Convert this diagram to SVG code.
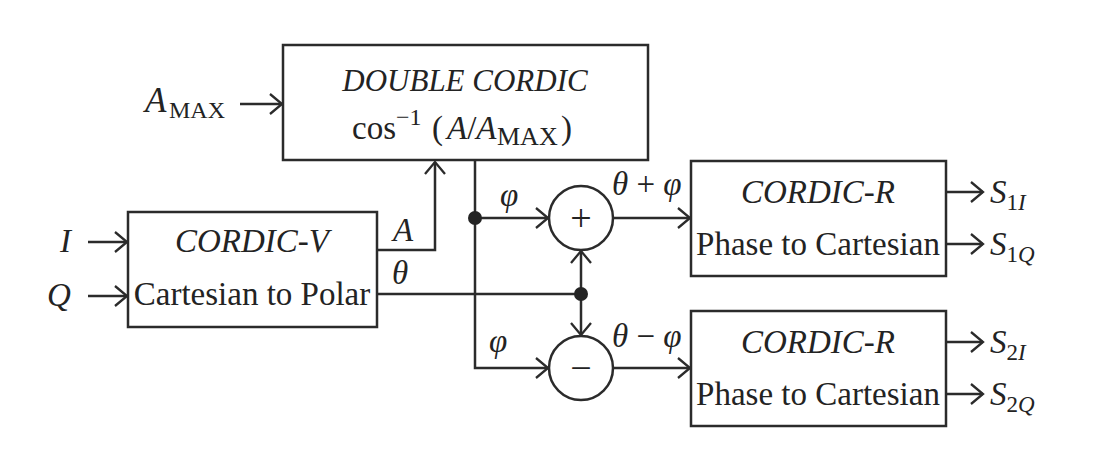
<svg xmlns="http://www.w3.org/2000/svg" width="1120" height="450" viewBox="0 0 1120 450">
<defs>
<style>
.box{fill:#fff;stroke:#2b2b2b;stroke-width:2.5}
.ln{fill:none;stroke:#2b2b2b;stroke-width:2.5}
.t{font-family:"Liberation Serif","Times New Roman",serif;font-size:33px;fill:#232323}
.i{font-style:italic}
.s{font-size:23px}
.c{text-anchor:middle}
</style>
<marker id="ar" markerUnits="userSpaceOnUse" markerWidth="16" markerHeight="24" refX="13" refY="11" orient="auto">
<path d="M1,1 L13,11 L1,21" fill="none" stroke="#2b2b2b" stroke-width="2.3"/>
</marker>
</defs>
<rect width="1120" height="450" fill="#fff"/>
<g id="connectors">
<line class="ln" x1="240" y1="104" x2="282" y2="104" marker-end="url(#ar)"/>
<line class="ln" x1="88" y1="242" x2="127" y2="242" marker-end="url(#ar)"/>
<line class="ln" x1="88" y1="296" x2="127" y2="296" marker-end="url(#ar)"/>
<polyline class="ln" points="377,250 435,250 435,162" marker-end="url(#ar)"/>
<line class="ln" x1="377" y1="294" x2="581" y2="294"/>
<polyline class="ln" points="475,160 475,368 548,368" marker-end="url(#ar)"/>
<line class="ln" x1="475" y1="218" x2="548" y2="218" marker-end="url(#ar)"/>
<line class="ln" x1="581" y1="294" x2="581" y2="251" marker-end="url(#ar)"/>
<line class="ln" x1="581" y1="294" x2="581" y2="335" marker-end="url(#ar)"/>
<line class="ln" x1="613" y1="218" x2="690" y2="218" marker-end="url(#ar)"/>
<line class="ln" x1="613" y1="368" x2="690" y2="368" marker-end="url(#ar)"/>
<line class="ln" x1="946" y1="192" x2="983" y2="192" marker-end="url(#ar)"/>
<line class="ln" x1="946" y1="244" x2="983" y2="244" marker-end="url(#ar)"/>
<line class="ln" x1="946" y1="342" x2="983" y2="342" marker-end="url(#ar)"/>
<line class="ln" x1="946" y1="394" x2="983" y2="394" marker-end="url(#ar)"/>
<circle cx="475" cy="218" r="7" fill="#232323"/>
<circle cx="581" cy="294" r="7" fill="#232323"/>
<text class="t i" x="393" y="241">A</text>
<text class="t i" x="392" y="284">θ</text>
<text class="t i" x="500" y="206">φ</text>
<text class="t i" x="489" y="352">φ</text>
<text class="t" x="612" y="195"><tspan class="i">θ</tspan> + <tspan class="i">φ</tspan></text>
<text class="t" x="612" y="347"><tspan class="i">θ</tspan> − <tspan class="i">φ</tspan></text>
</g>
<g id="amax">
<text class="t" x="145" y="112"><tspan class="i" style="font-size:35px">A</tspan><tspan x="169" dy="6" style="font-size:24px">MAX</tspan></text>
</g>
<g id="in-i"><text class="t i" x="60" y="252">I</text></g>
<g id="in-q"><text class="t i" x="47" y="306">Q</text></g>
<g id="double-cordic">
<rect class="box" x="283" y="45" width="365" height="115"/>
<text class="t i c" x="465" y="91" style="font-size:31px">DOUBLE CORDIC</text>
<text class="t" y="139"><tspan x="352">cos</tspan><tspan x="396" dy="-14" style="font-size:24px">−1</tspan><tspan x="432" dy="14">(</tspan><tspan x="447" class="i">A</tspan><tspan>/</tspan><tspan class="i">A</tspan><tspan x="497" dy="6" style="font-size:26px">MAX</tspan><tspan x="561" dy="-6">)</tspan></text>
</g>
<g id="cordic-v">
<rect class="box" x="128" y="212" width="249" height="115"/>
<text class="t i c" x="252" y="252">CORDIC-V</text>
<text class="t c" x="252" y="305">Cartesian to Polar</text>
</g>
<g id="sum-plus">
<circle class="box" cx="581" cy="218" r="32"/>
<text class="t c" x="581" y="231" style="font-size:38px">+</text>
</g>
<g id="sum-minus">
<circle class="box" cx="581" cy="368" r="32"/>
<text class="t c" x="581" y="381" style="font-size:38px">−</text>
</g>
<g id="cordic-r1">
<rect class="box" x="691" y="161" width="255" height="115"/>
<text class="t i c" x="818" y="203">CORDIC-R</text>
<text class="t c" x="818" y="255">Phase to Cartesian</text>
</g>
<g id="cordic-r2">
<rect class="box" x="691" y="311" width="255" height="115"/>
<text class="t i c" x="818" y="353">CORDIC-R</text>
<text class="t c" x="818" y="405">Phase to Cartesian</text>
</g>
<g id="outputs">
<text class="t" x="990" y="203"><tspan class="i">S</tspan><tspan class="s" dy="7">1</tspan><tspan class="s i">I</tspan></text>
<text class="t" x="990" y="255"><tspan class="i">S</tspan><tspan class="s" dy="7">1</tspan><tspan class="s i">Q</tspan></text>
<text class="t" x="990" y="353"><tspan class="i">S</tspan><tspan class="s" dy="7">2</tspan><tspan class="s i">I</tspan></text>
<text class="t" x="990" y="405"><tspan class="i">S</tspan><tspan class="s" dy="7">2</tspan><tspan class="s i">Q</tspan></text>
</g>
</svg>
